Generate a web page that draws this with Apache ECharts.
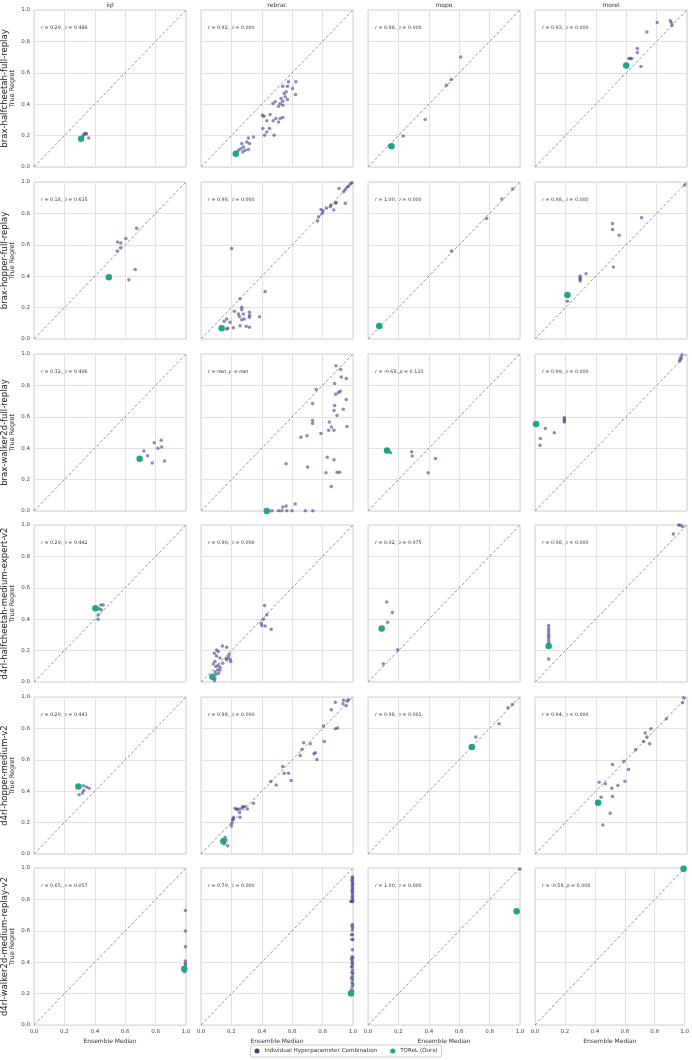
<!DOCTYPE html>
<html>
<head>
<meta charset="utf-8">
<script src="https://cdn.jsdelivr.net/npm/echarts@6/dist/echarts.min.js"></script>
<style>
html, body { margin: 0; padding: 0; background: #fff; }
#main { width: 692px; height: 1060px; }
</style>
</head>
<body>
<div id="main"></div>
<script>
// 列(方法)和行(数据集)
var methods = ['iql', 'rebrac', 'mopo', 'morel'];
var datasets = [
    'brax-halfcheetah-full-replay',
    'brax-hopper-full-replay',
    'brax-walker2d-full-replay',
    'd4rl-halfcheetah-medium-expert-v2',
    'd4rl-hopper-medium-v2',
    'd4rl-walker2d-medium-replay-v2'
];
var tickValues = [0, 0.2, 0.4, 0.6, 0.8, 1.0];
var diagLine = [[0, 0], [1, 1]];

// 每个子图的相关系数
var stats = [
    [['0.29', '0.448'], ['0.92', '0.000'], ['0.98', '0.000'], ['0.93', '0.000']],
    [['0.18', '0.635'], ['0.98', '0.000'], ['1.00', '0.000'], ['0.98', '0.000']],
    [['0.32', '0.406'], ['nan', 'nan'], ['-0.68', '0.133'], ['0.99', '0.000']],
    [['0.29', '0.442'], ['0.90', '0.000'], ['0.02', '0.975'], ['0.98', '0.000']],
    [['0.29', '0.443'], ['0.98', '0.000'], ['0.98', '0.001'], ['0.94', '0.000']],
    [['0.65', '0.057'], ['0.79', '0.000'], ['1.00', '0.000'], ['-0.58', '0.008']]
];

// TOReL (Ours) 点, 每行 [iql, rebrac, mopo, morel]
var torel = [
    [[0.31, 0.18], [0.229, 0.085], [0.155, 0.132], [0.60, 0.647]],
    [[0.492, 0.394], [0.136, 0.068], [0.074, 0.083], [0.213, 0.281]],
    [[0.695, 0.333], [0.433, 0.0], [0.125, 0.386], [0.007, 0.554]],
    [[0.404, 0.47], [0.075, 0.034], [0.09, 0.34], [0.09, 0.23]],
    [[0.292, 0.43], [0.147, 0.081], [0.683, 0.681], [0.415, 0.326]],
    [[0.989, 0.356], [0.987, 0.2], [0.978, 0.725], [0.993, 0.996]]
];

// 超参数组合点
var braxHalfcheetah = [
    [[0.33, 0.21], [0.34, 0.215], [0.345, 0.21], [0.325, 0.2], [0.36, 0.185]],
    [[0.576, 0.543], [0.624, 0.543], [0.538, 0.515], [0.569, 0.515], [0.602, 0.5], [0.56, 0.479],
     [0.622, 0.462], [0.547, 0.468], [0.527, 0.436], [0.554, 0.447], [0.569, 0.43], [0.538, 0.419],
     [0.521, 0.404], [0.488, 0.415], [0.473, 0.404], [0.51, 0.387], [0.538, 0.394], [0.404, 0.33],
     [0.415, 0.323], [0.455, 0.334], [0.433, 0.294], [0.475, 0.294], [0.492, 0.309], [0.521, 0.309],
     [0.538, 0.315], [0.51, 0.287], [0.407, 0.245], [0.451, 0.245], [0.433, 0.223], [0.418, 0.202],
     [0.481, 0.202], [0.345, 0.191], [0.312, 0.185], [0.301, 0.16], [0.319, 0.149], [0.268, 0.149],
     [0.279, 0.128], [0.262, 0.117], [0.29, 0.106], [0.312, 0.111], [0.246, 0.106], [0.275, 0.096]],
    [[0.61, 0.70], [0.547, 0.557], [0.516, 0.521], [0.376, 0.302], [0.232, 0.198], [0.14, 0.135]],
    [[0.804, 0.921], [0.89, 0.932], [0.897, 0.919], [0.901, 0.902], [0.736, 0.86], [0.673, 0.755],
     [0.673, 0.73], [0.618, 0.691], [0.626, 0.691], [0.637, 0.691], [0.697, 0.64]]
];

var braxHopper = [
    [[0.675, 0.706], [0.604, 0.64], [0.549, 0.618], [0.571, 0.612], [0.569, 0.582], [0.547, 0.561],
     [0.666, 0.443], [0.624, 0.377]],
    [[0.993, 0.996], [0.982, 0.987], [0.971, 0.974], [0.96, 0.966], [0.949, 0.953], [0.938, 0.938],
     [0.908, 0.959], [0.949, 0.864], [0.89, 0.87], [0.884, 0.864], [0.873, 0.821], [0.855, 0.853],
     [0.851, 0.842], [0.824, 0.835], [0.802, 0.817], [0.789, 0.825], [0.796, 0.8], [0.774, 0.778],
     [0.767, 0.751], [0.202, 0.576], [0.422, 0.303], [0.257, 0.256], [0.268, 0.203], [0.268, 0.186],
     [0.22, 0.177], [0.319, 0.171], [0.319, 0.149], [0.319, 0.138], [0.246, 0.16], [0.253, 0.143],
     [0.279, 0.16], [0.268, 0.122], [0.284, 0.128], [0.385, 0.141], [0.169, 0.128], [0.152, 0.113],
     [0.191, 0.107], [0.213, 0.072], [0.176, 0.068], [0.169, 0.064], [0.257, 0.085], [0.297, 0.081],
     [0.319, 0.075]],
    [[0.952, 0.955], [0.88, 0.891], [0.781, 0.768], [0.549, 0.561]],
    [[0.985, 0.981], [0.701, 0.772], [0.51, 0.736], [0.51, 0.697], [0.554, 0.661], [0.516, 0.458],
     [0.336, 0.416], [0.297, 0.401], [0.297, 0.39], [0.297, 0.38], [0.297, 0.369], [0.213, 0.241]]
];

var braxWalker = [
    [[0.837, 0.45], [0.791, 0.435], [0.815, 0.399], [0.84, 0.407], [0.723, 0.382], [0.747, 0.352],
     [0.859, 0.318], [0.778, 0.305]],
    [[0.888, 0.925], [0.919, 0.902], [0.923, 0.853], [0.956, 0.844], [0.758, 0.774], [0.879, 0.812],
     [0.916, 0.763], [0.905, 0.755], [0.886, 0.744], [0.956, 0.71], [0.734, 0.684], [0.879, 0.672],
     [0.936, 0.648], [0.875, 0.64], [0.895, 0.608], [0.734, 0.576], [0.734, 0.557], [0.844, 0.567],
     [0.859, 0.535], [0.84, 0.514], [0.875, 0.514], [0.96, 0.539], [0.789, 0.493], [0.697, 0.48],
     [0.657, 0.469], [0.831, 0.343], [0.875, 0.326], [0.56, 0.301], [0.701, 0.281], [0.895, 0.247],
     [0.912, 0.247], [0.822, 0.243], [0.857, 0.156], [0.62, 0.045], [0.56, 0.032], [0.538, 0.026],
     [0.466, 0.002], [0.51, 0.002], [0.532, 0.002], [0.565, 0.002], [0.598, 0.002], [0.686, 0.002],
     [0.736, 0.002]],
    [[0.149, 0.371], [0.287, 0.377], [0.291, 0.35], [0.444, 0.335], [0.396, 0.243]],
    [[0.068, 0.525], [0.127, 0.499], [0.035, 0.461], [0.033, 0.418], [0.193, 0.595], [0.193, 0.584],
     [0.193, 0.574], [0.193, 0.567], [0.967, 0.994], [0.96, 0.979], [0.956, 0.966], [0.952, 0.955]]
];

var d4rlHalfcheetah = [
    [[0.44, 0.491], [0.455, 0.491], [0.429, 0.466], [0.442, 0.46], [0.422, 0.428], [0.422, 0.4]],
    [[0.418, 0.487], [0.433, 0.428], [0.411, 0.4], [0.396, 0.374], [0.4, 0.36], [0.422, 0.357],
     [0.462, 0.336], [0.141, 0.23], [0.169, 0.221], [0.088, 0.183], [0.103, 0.204], [0.114, 0.194],
     [0.103, 0.166], [0.185, 0.177], [0.18, 0.16], [0.165, 0.149], [0.169, 0.14], [0.196, 0.13],
     [0.191, 0.145], [0.125, 0.153], [0.092, 0.13], [0.081, 0.115], [0.099, 0.098], [0.114, 0.109],
     [0.125, 0.094], [0.11, 0.077], [0.092, 0.066], [0.099, 0.049], [0.081, 0.034], [0.092, 0.023],
     [0.088, 0.009], [0.143, 0.119], [0.125, 0.077], [0.116, 0.055]],
    [[0.123, 0.509], [0.16, 0.443], [0.129, 0.381], [0.195, 0.206], [0.101, 0.115]],
    [[0.09, 0.36], [0.09, 0.343], [0.09, 0.326], [0.09, 0.311], [0.09, 0.296], [0.09, 0.283],
     [0.09, 0.268], [0.09, 0.251], [0.09, 0.236], [0.09, 0.219], [0.09, 0.147], [0.91, 0.943],
     [0.956, 0.998], [0.971, 0.991], [0.945, 1.0]]
];

var d4rlHopper = [
    [[0.325, 0.434], [0.345, 0.426], [0.363, 0.419], [0.327, 0.404], [0.319, 0.389], [0.297, 0.377]],
    [[0.971, 0.983], [0.96, 0.974], [0.938, 0.979], [0.934, 0.957], [0.956, 0.945], [0.884, 0.966],
     [0.857, 0.919], [0.899, 0.802], [0.884, 0.798], [0.807, 0.815], [0.811, 0.717], [0.763, 0.602],
     [0.752, 0.645], [0.743, 0.638], [0.719, 0.702], [0.675, 0.709], [0.664, 0.666], [0.653, 0.628],
     [0.538, 0.557], [0.547, 0.515], [0.576, 0.515], [0.593, 0.468], [0.495, 0.44], [0.459, 0.462],
     [0.345, 0.323], [0.29, 0.302], [0.273, 0.294], [0.257, 0.287], [0.24, 0.287], [0.224, 0.291],
     [0.235, 0.283], [0.253, 0.266], [0.275, 0.302], [0.305, 0.287], [0.213, 0.234], [0.207, 0.217],
     [0.204, 0.196], [0.2, 0.179], [0.213, 0.223], [0.257, 0.234], [0.165, 0.089], [0.152, 0.064],
     [0.176, 0.053], [0.158, 0.106]],
    [[0.95, 0.953], [0.921, 0.932], [0.862, 0.83], [0.709, 0.745]],
    [[0.978, 0.996], [0.971, 0.964], [0.864, 0.862], [0.763, 0.798], [0.725, 0.77], [0.736, 0.745],
     [0.714, 0.717], [0.662, 0.664], [0.754, 0.702], [0.585, 0.591], [0.615, 0.538], [0.51, 0.57],
     [0.591, 0.464], [0.545, 0.436], [0.505, 0.419], [0.462, 0.447], [0.422, 0.457], [0.435, 0.362],
     [0.51, 0.366], [0.495, 0.26], [0.446, 0.185]]
];

var d4rlWalker = [
    [[0.996, 0.729], [0.996, 0.599], [0.996, 0.499], [0.996, 0.407], [0.995, 0.392], [0.996, 0.382],
     [0.995, 0.367], [0.99, 0.339]],
    [[0.995, 0.945], [0.998, 0.935], [0.993, 0.925], [0.997, 0.915], [0.995, 0.905], [0.999, 0.895],
     [0.994, 0.885], [0.998, 0.875], [0.996, 0.865], [0.993, 0.855], [0.998, 0.845], [0.995, 0.835],
     [0.997, 0.82], [0.994, 0.81], [0.998, 0.8], [0.985, 0.787], [0.992, 0.787], [0.999, 0.787],
     [0.996, 0.64], [0.993, 0.63], [0.998, 0.62], [0.995, 0.605], [0.99, 0.575], [0.997, 0.575],
     [0.993, 0.545], [0.999, 0.545], [0.996, 0.48], [0.994, 0.435], [0.999, 0.43], [0.99, 0.42],
     [0.996, 0.41], [0.993, 0.395], [0.998, 0.39], [0.995, 0.375], [0.99, 0.37], [0.997, 0.35],
     [0.993, 0.335], [0.999, 0.33], [0.996, 0.31], [0.99, 0.3], [0.997, 0.29], [0.994, 0.27],
     [0.999, 0.26], [0.995, 0.245], [0.99, 0.225], [0.997, 0.215]],
    [[1.0, 0.994]],
    []
];

var combos = [braxHalfcheetah, braxHopper, braxWalker, d4rlHalfcheetah, d4rlHopper, d4rlWalker];

var colLeft = [34, 201, 368, 535];
var rowTop = [10, 182, 354, 525, 697, 868];
var cellW = 152, cellH = 157;
var font = 'DejaVu Sans';
var purple = '#3f3f8f';
var green = '#21a585';

var myChart = echarts.init(document.getElementById('main'));

var grids = [], xAxes = [], yAxes = [], series = [], graphics = [];

for (var r = 0; r < datasets.length; r++) {
    for (var c = 0; c < methods.length; c++) {
        var i = r * methods.length + c;
        var bottom = r === datasets.length - 1;
        grids.push({
            left: colLeft[c], top: rowTop[r], width: cellW, height: cellH,
            show: true, borderColor: '#d2d2d2', borderWidth: 1, backgroundColor: '#fff'
        });
        xAxes.push({
            gridIndex: i, type: 'value', min: 0, max: 1, interval: 0.2,
            axisLine: { show: false }, axisTick: { show: false },
            splitLine: { lineStyle: { color: '#e2e2e2', width: 1 } },
            axisLabel: {
                show: bottom, fontSize: 5.5, color: '#444', fontFamily: font, margin: 4,
                formatter: function (v) { return v.toFixed(1); }
            },
            name: bottom ? 'Ensemble Median' : '', nameLocation: 'middle', nameGap: 13,
            nameTextStyle: { fontSize: 6, color: '#333', fontFamily: font }
        });
        yAxes.push({
            gridIndex: i, type: 'value', min: 0, max: 1, interval: 0.2,
            axisLine: { show: false }, axisTick: { show: false },
            splitLine: { lineStyle: { color: '#e2e2e2', width: 1 } },
            axisLabel: {
                show: c === 0, fontSize: 5.5, color: '#444', fontFamily: font, margin: 4,
                formatter: function (v) { return v.toFixed(1); }
            },
            name: c === 0 ? 'True Regret' : '', nameLocation: 'middle', nameGap: 18, nameRotate: 90,
            nameTextStyle: { fontSize: 6.5, color: '#333', fontFamily: font }
        });
        series.push({
            type: 'line', xAxisIndex: i, yAxisIndex: i, data: diagLine,
            symbol: 'none', silent: true, z: 1,
            lineStyle: { color: '#777', width: 0.8, type: [3, 2] }
        });
        series.push({
            name: 'Individual Hyperparameter Combination',
            type: 'scatter', xAxisIndex: i, yAxisIndex: i,
            data: combos[r][c], symbolSize: 3.5, z: 2,
            itemStyle: { color: purple, opacity: 0.6 }
        });
        series.push({
            name: 'TOReL (Ours)',
            type: 'scatter', xAxisIndex: i, yAxisIndex: i,
            data: [torel[r][c]], symbolSize: 6.5, z: 3,
            itemStyle: { color: green, opacity: 1 }
        });
        // r, p 标注
        graphics.push({
            type: 'text', x: colLeft[c] + 7, y: rowTop[r] + 18,
            style: {
                text: '{i|r} = ' + stats[r][c][0] + ', {i|p} = ' + stats[r][c][1],
                fontSize: 4.8, fontFamily: font, fill: '#333',
                textVerticalAlign: 'middle',
                rich: { i: { fontStyle: 'italic', fontSize: 4.8, fontFamily: font, fill: '#333' } }
            }
        });
    }
    // 行标签
    graphics.push({
        type: 'text', x: 5, y: rowTop[r] + cellH / 2, rotation: Math.PI / 2,
        style: {
            text: datasets[r], fontSize: 8.5, fontFamily: font, fill: '#222',
            textAlign: 'center', textVerticalAlign: 'middle'
        }
    });
}

// 列标题
for (var c2 = 0; c2 < methods.length; c2++) {
    graphics.push({
        type: 'text', x: colLeft[c2] + cellW / 2, y: 5,
        style: {
            text: methods[c2], fontSize: 6, fontFamily: font, fill: '#333',
            textAlign: 'center', textVerticalAlign: 'middle'
        }
    });
}

var option = {
    backgroundColor: '#fff',
    animation: false,
    grid: grids,
    xAxis: xAxes,
    yAxis: yAxes,
    series: series,
    graphic: graphics,
    legend: {
        bottom: 3, left: 'center',
        data: [
            { name: 'Individual Hyperparameter Combination', itemStyle: { opacity: 1 } },
            { name: 'TOReL (Ours)' }
        ],
        icon: 'circle', itemWidth: 5, itemHeight: 5, itemGap: 13,
        borderColor: '#ccc', borderWidth: 1, borderRadius: 2, padding: [3, 4],
        textStyle: { fontSize: 5.6, color: '#333', fontFamily: font }
    }
};

myChart.setOption(option);
</script>
</body>
</html>
